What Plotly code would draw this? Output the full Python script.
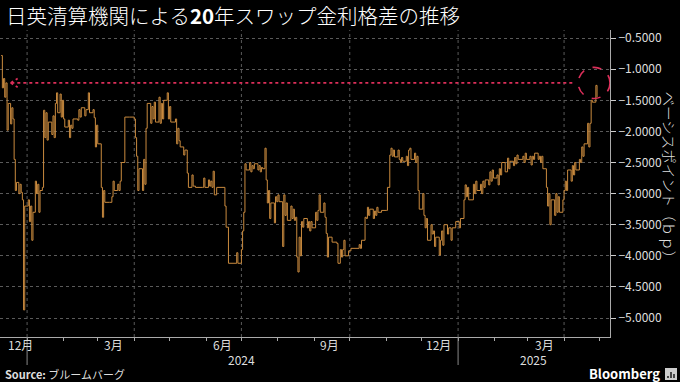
import plotly.graph_objects as go

# ---------------- data ----------------
dates = [
"2023-12-10","2023-12-11","2023-12-12","2023-12-13","2023-12-14","2023-12-15","2023-12-16","2023-12-18","2023-12-19","2023-12-20",
"2023-12-21","2023-12-22","2023-12-23","2023-12-25","2023-12-26","2023-12-27","2023-12-28","2023-12-29","2023-12-30","2024-01-02",
"2024-01-03","2024-01-04","2024-01-05","2024-01-06","2024-01-08","2024-01-09","2024-01-10","2024-01-11","2024-01-12","2024-01-14",
"2024-01-15","2024-01-16","2024-01-17","2024-01-18","2024-01-19","2024-01-22","2024-01-23","2024-01-24","2024-01-25","2024-01-26",
"2024-01-27","2024-01-29","2024-01-30","2024-01-31","2024-02-01","2024-02-02","2024-02-05","2024-02-06","2024-02-07","2024-02-08",
"2024-02-09","2024-02-13","2024-02-14","2024-02-15","2024-02-16","2024-02-19","2024-02-20","2024-02-22","2024-02-23","2024-02-26",
"2024-02-27","2024-02-28","2024-02-29","2024-03-01","2024-03-04","2024-03-05","2024-03-06","2024-03-07","2024-03-11","2024-03-13",
"2024-03-14","2024-03-15","2024-03-18","2024-03-19","2024-03-20","2024-03-21","2024-03-24","2024-03-28","2024-04-01","2024-04-02",
"2024-04-03","2024-04-04","2024-04-05","2024-04-08","2024-04-09","2024-04-10","2024-04-11","2024-04-12","2024-04-15","2024-04-16",
"2024-04-17","2024-04-18","2024-04-19","2024-04-22","2024-04-23","2024-04-24","2024-04-25","2024-04-26","2024-04-29","2024-04-30",
"2024-05-01","2024-05-02","2024-05-06","2024-05-07","2024-05-08","2024-05-09","2024-05-10","2024-05-13","2024-05-14","2024-05-16",
"2024-05-17","2024-05-20","2024-05-21","2024-05-23","2024-05-29","2024-05-30","2024-05-31","2024-06-03","2024-06-04","2024-06-05",
"2024-06-06","2024-06-07","2024-06-08","2024-06-10","2024-06-17","2024-06-18","2024-06-20","2024-06-27","2024-06-28","2024-07-01",
"2024-07-02","2024-07-03","2024-07-04","2024-07-05","2024-07-08","2024-07-09","2024-07-10","2024-07-11","2024-07-12","2024-07-15",
"2024-07-16","2024-07-17","2024-07-18","2024-07-19","2024-07-21","2024-07-22","2024-07-23","2024-07-24","2024-07-25","2024-07-26",
"2024-07-29","2024-07-30","2024-07-31","2024-08-01","2024-08-02","2024-08-05","2024-08-06","2024-08-07","2024-08-08","2024-08-09",
"2024-08-12","2024-08-13","2024-08-14","2024-08-15","2024-08-16","2024-08-17","2024-08-18","2024-08-19","2024-08-20","2024-08-21",
"2024-08-22","2024-08-23","2024-08-26","2024-08-27","2024-08-28","2024-08-29","2024-08-30","2024-09-02","2024-09-03","2024-09-04",
"2024-09-05","2024-09-06","2024-09-09","2024-09-10","2024-09-11","2024-09-12","2024-09-13","2024-09-16","2024-09-20","2024-09-21",
"2024-09-23","2024-09-24","2024-09-25","2024-09-26","2024-09-27","2024-09-30","2024-10-02","2024-10-09","2024-10-10","2024-10-11",
"2024-10-14","2024-10-15","2024-10-16","2024-10-17","2024-10-18","2024-10-21","2024-10-22","2024-10-23","2024-10-24","2024-10-25",
"2024-10-28","2024-11-01","2024-11-02","2024-11-04","2024-11-05","2024-11-06","2024-11-07","2024-11-08","2024-11-11","2024-11-12",
"2024-11-13","2024-11-14","2024-11-15","2024-11-18","2024-11-19","2024-11-20","2024-11-21","2024-11-22","2024-11-25","2024-11-26",
"2024-11-27","2024-11-28","2024-11-29","2024-12-02","2024-12-03","2024-12-04","2024-12-05","2024-12-06","2024-12-09","2024-12-10",
"2024-12-11","2024-12-12","2024-12-13","2024-12-16","2024-12-17","2024-12-18","2024-12-19","2024-12-20","2024-12-23","2024-12-24",
"2024-12-26","2024-12-27","2024-12-30","2025-01-02","2025-01-03","2025-01-06","2025-01-07","2025-01-08","2025-01-09","2025-01-10",
"2025-01-14","2025-01-15","2025-01-16","2025-01-17","2025-01-20","2025-01-21","2025-01-22","2025-01-23","2025-01-24","2025-01-27",
"2025-01-28","2025-01-29","2025-01-30","2025-01-31","2025-02-03","2025-02-04","2025-02-05","2025-02-06","2025-02-07","2025-02-10",
"2025-02-12","2025-02-13","2025-02-14","2025-02-17","2025-02-18","2025-02-19","2025-02-20","2025-02-21","2025-02-25","2025-02-26",
"2025-02-27","2025-02-28","2025-03-03","2025-03-04","2025-03-05","2025-03-06","2025-03-07","2025-03-10","2025-03-11","2025-03-12",
"2025-03-13","2025-03-14","2025-03-17","2025-03-18","2025-03-19","2025-03-20","2025-03-21","2025-03-24","2025-03-25","2025-03-26",
"2025-03-27","2025-03-28","2025-03-31","2025-04-01","2025-04-02","2025-04-03","2025-04-04","2025-04-07","2025-04-08","2025-04-09",
"2025-04-10","2025-04-11","2025-04-14","2025-04-15","2025-04-16","2025-04-17","2025-04-18","2025-04-21","2025-04-22","2025-04-23",
"2025-04-24","2025-04-25","2025-04-28","2025-04-29",
]
values = [
-0.78,-1.30,-1.15,-1.45,-1.22,-1.98,-1.55,-1.88,-1.62,-1.80,
-2.45,-2.95,-2.82,-3.00,-2.85,-2.98,-3.10,-4.87,-3.20,-3.10,
-3.45,-3.20,-3.75,-3.30,-2.80,-3.00,-2.85,-3.30,-2.95,-2.90,
-1.66,-2.10,-1.70,-2.14,-1.85,-2.05,-1.75,-2.10,-1.55,-1.38,
-1.70,-1.40,-1.77,-1.50,-1.80,-1.93,-1.82,-2.10,-1.90,-1.95,
-1.80,-1.82,-1.65,-1.77,-1.62,-1.75,-1.65,-1.38,-1.70,-1.65,
-1.78,-2.25,-1.90,-2.20,-2.90,-3.38,-2.95,-3.14,-3.14,-3.05,
-2.80,-2.95,-2.85,-2.95,-2.80,-2.50,-1.77,-1.77,-1.80,-2.10,
-2.40,-2.95,-2.60,-2.95,-2.45,-2.85,-1.95,-1.55,-1.87,-1.60,
-1.80,-1.53,-1.85,-1.45,-1.87,-1.55,-1.80,-1.50,-1.38,-1.80,
-1.60,-1.85,-1.80,-2.20,-1.95,-2.15,-2.25,-2.38,-2.30,-2.67,
-2.90,-2.70,-2.88,-2.90,-2.90,-2.75,-2.90,-2.78,-2.88,-2.80,
-2.90,-2.64,-3.02,-2.90,-3.20,-3.54,-4.12,-3.95,-4.12,-3.90,
-3.60,-3.30,-2.52,-2.62,-2.50,-2.65,-2.55,-2.60,-2.52,-2.62,
-2.55,-2.65,-2.58,-2.60,-2.27,-2.78,-3.15,-2.95,-3.40,-3.15,
-3.47,-3.05,-3.13,-3.02,-3.13,-3.85,-3.02,-3.35,-3.15,-3.43,
-3.20,-3.40,-3.25,-3.43,-3.38,-4.02,-4.26,-3.70,-4.00,-3.45,
-3.54,-3.40,-3.55,-3.45,-3.60,-3.45,-3.55,-3.30,-3.43,-3.27,
-3.02,-3.30,-3.15,-3.38,-3.64,-4.02,-3.70,-3.78,-3.80,-4.12,
-3.90,-4.02,-3.90,-3.75,-4.00,-3.92,-3.88,-3.82,-3.88,-3.75,
-3.38,-3.40,-3.22,-3.35,-3.25,-3.40,-3.28,-3.35,-3.22,-3.30,
-3.27,-3.27,-2.90,-2.38,-2.27,-2.40,-2.30,-2.41,-2.30,-2.45,
-2.50,-2.42,-2.48,-2.40,-2.55,-2.30,-2.27,-2.45,-2.35,-2.50,
-2.40,-2.95,-3.25,-3.00,-3.35,-3.55,-3.40,-3.75,-3.50,-3.65,
-3.60,-3.85,-3.70,-3.99,-3.75,-3.60,-3.83,-3.50,-3.65,-3.55,
-3.75,-3.55,-3.45,-3.55,-3.40,-3.10,-2.86,-3.05,-2.90,-3.10,
-2.85,-3.00,-2.80,-2.95,-2.85,-3.00,-2.80,-2.90,-2.78,-2.86,
-2.65,-2.80,-2.62,-2.75,-2.70,-2.86,-2.60,-2.70,-2.50,-2.65,
-2.43,-2.60,-2.48,-2.55,-2.42,-2.52,-2.38,-2.45,-2.40,-2.50,
-2.35,-2.45,-2.40,-2.54,-2.40,-2.45,-2.35,-2.45,-2.40,-2.50,
-2.40,-2.60,-2.90,-3.20,-3.00,-3.50,-3.10,-3.35,-3.00,-3.30,
-3.05,-3.30,-3.10,-2.95,-2.80,-2.95,-2.62,-2.80,-2.55,-2.70,
-2.50,-2.62,-2.45,-2.50,-2.25,-2.40,-2.20,-1.87,-2.25,-1.87,
-1.50,-1.53,-1.26,-1.45,
]

y_ticks = [-0.5, -1.0, -1.5, -2.0, -2.5, -3.0, -3.5, -4.0, -4.5, -5.0]
month_label_dates = ["2023-12-26", "2024-03-14", "2024-06-15", "2024-09-14", "2024-12-15", "2025-03-15"]
month_labels = ["12月", "3月", "6月", "9月", "12月", "3月"]
year_label_dates = ["2024-07-01", "2025-03-06"]
year_labels = ["2024", "2025"]
year_starts = ["2024-01-01", "2025-01-01"]
quarter_starts = ["2024-01-01", "2024-04-01", "2024-07-01", "2024-10-01", "2025-01-01", "2025-04-01"]

title_text = "日英清算機関による<b>20</b>年スワップ金利格差の推移"
y_title = "ベーシスポイント（ｂｐ）"

# highlight (arrow + circle)
level = -1.22
arrow_from = "2025-04-08"
arrow_to = "2023-12-18"
circle_x0, circle_x1 = "2025-04-13", "2025-05-10"

FONT = "Noto Sans CJK JP"
RED = "#dc2f5a"
ORANGE = "#c98a3e"
TXT = "#dddddd"

# pixel helpers for paper coords (plot area 610 x 307, bottom at y=337)
PW, PH, PB = 610.0, 307.0, 337.0
def px(x):
    return x / PW
def py(y):
    return (PB - y) / PH

fig = go.Figure()
fig.add_trace(go.Scatter(x=dates, y=values, mode="lines",
                         line=dict(color=ORANGE, width=1, shape="hv"),
                         hoverinfo="skip"))

shapes = []
for q in quarter_starts:
    shapes.append(dict(type="line", xref="x", yref="paper", x0=q, x1=q, y0=0, y1=1,
                       line=dict(color="#5a5a5a", width=1, dash="dot"), layer="below"))
for ys in year_starts:
    shapes.append(dict(type="line", xref="x", yref="paper", x0=ys, x1=ys, y0=0, y1=py(365),
                       line=dict(color="#888888", width=1)))
# dotted arrow
shapes.append(dict(type="line", xref="x", yref="y", x0=arrow_from, x1=arrow_to, y0=level, y1=level,
                   line=dict(color=RED, width=1.6, dash="dot")))
shapes.append(dict(type="line", xref="x", yref="y", x0=arrow_to, x1="2023-12-24", y0=level, y1=level + 0.07,
                   line=dict(color=RED, width=1.6, dash="dot")))
shapes.append(dict(type="line", xref="x", yref="y", x0=arrow_to, x1="2023-12-24", y0=level, y1=level - 0.07,
                   line=dict(color=RED, width=1.6, dash="dot")))
# dashed circle
shapes.append(dict(type="circle", xref="x", yref="y", x0=circle_x0, x1=circle_x1,
                   y0=level - 0.25, y1=level + 0.25,
                   line=dict(color=RED, width=1.6, dash="dash")))
# Bloomberg icon
shapes.append(dict(type="rect", xref="paper", yref="paper", x0=px(665), x1=px(677), y0=py(380), y1=py(368),
                   fillcolor="#cccccc", line=dict(width=0)))
for bx, top in [(668, 376), (671, 372), (674, 374)]:
    shapes.append(dict(type="rect", xref="paper", yref="paper", x0=px(bx - 0.8), x1=px(bx + 0.8),
                       y0=py(378), y1=py(top), fillcolor="#222222", line=dict(width=0)))

annotations = [
    dict(text=title_text, xref="paper", yref="paper", x=px(4), y=py(15), xanchor="left", yanchor="middle",
         showarrow=False, font=dict(family=FONT, size=20.5, color="#ffffff", weight=300)),
    dict(text="<b>Source:</b> ブルームバーグ", xref="paper", yref="paper", x=px(3), y=py(374),
         xanchor="left", yanchor="middle", showarrow=False, font=dict(family=FONT, size=11, color=TXT)),
    dict(text="<b>Bloomberg</b>", xref="paper", yref="paper", x=px(662), y=py(373),
         xanchor="right", yanchor="middle", showarrow=False, font=dict(family=FONT, size=13, color="#ffffff")),
    dict(text=y_title, xref="paper", yref="paper", x=px(669.5), y=py(179), textangle=90,
         xanchor="center", yanchor="middle", showarrow=False,
         font=dict(family=FONT, size=14.5, color=TXT, weight=300)),
]
for d, t in zip(month_label_dates, month_labels):
    annotations.append(dict(text=t, xref="x", yref="paper", x=d, y=py(344), xanchor="center",
                            yanchor="middle", showarrow=False, font=dict(family=FONT, size=12, color=TXT)))
for d, t in zip(year_label_dates, year_labels):
    annotations.append(dict(text=t, xref="x", yref="paper", x=d, y=py(359.5), xanchor="center",
                            yanchor="middle", showarrow=False, font=dict(family=FONT, size=12, color=TXT)))

fig.update_layout(
    width=680, height=382,
    margin=dict(l=0, r=70, t=30, b=45),
    paper_bgcolor="#000000", plot_bgcolor="#000000",
    showlegend=False,
    shapes=shapes, annotations=annotations,
    xaxis=dict(type="date", range=["2023-12-09", "2025-05-10"], showgrid=False, zeroline=False,
               showline=True, linecolor="#aaaaaa", linewidth=1,
               tickmode="array", tickvals=month_label_dates, ticks="", showticklabels=False,
               minor=dict(tickmode="linear", tick0="2024-01-01", dtick="M1", ticks="outside",
                          ticklen=3, tickcolor="#aaaaaa", showgrid=False)),
    yaxis=dict(side="right", range=[-5.305, -0.37], tickmode="array", tickvals=y_ticks,
               tickformat=".4f", ticks="outside", ticklen=5, tickcolor="#cccccc",
               showline=True, linecolor="#aaaaaa", linewidth=1, zeroline=False,
               showgrid=True, gridcolor="#5a5a5a", griddash="dot", gridwidth=1,
               tickfont=dict(family=FONT, size=12, color=TXT)),
)

fig.write_html("out.html", config={"displayModeBar": False},
               post_script="document.body.style.margin='0';document.body.style.background='#000';")
